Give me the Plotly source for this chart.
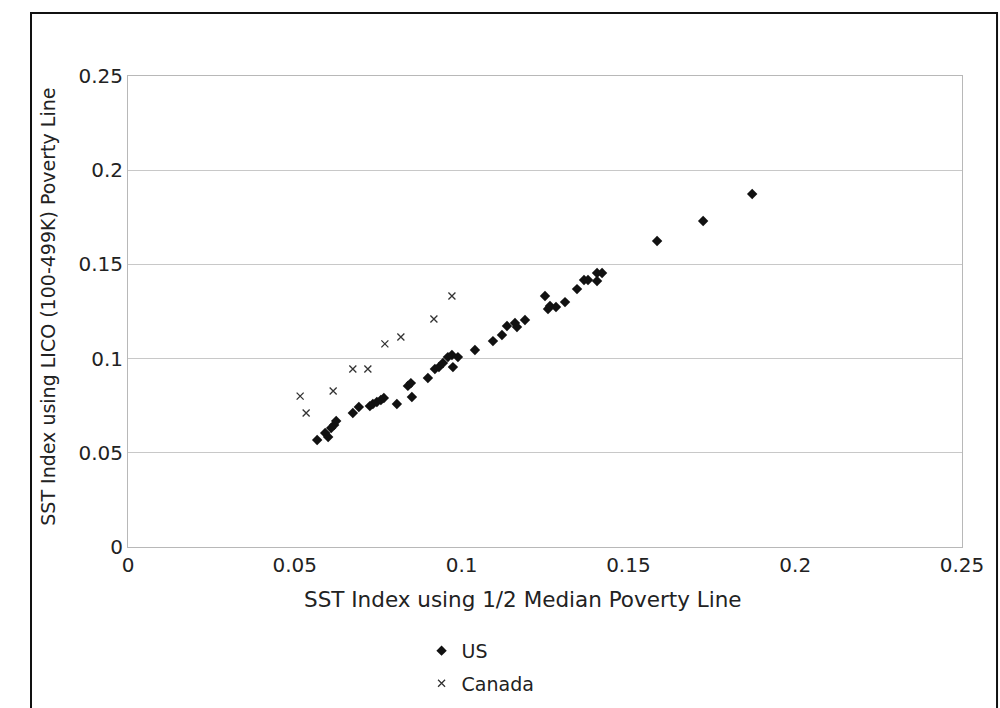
import plotly.graph_objects as go

# SST index values
us_half_median = [
    0.0567, 0.0591, 0.0600, 0.0609, 0.0618, 0.0624, 0.0674, 0.0692, 0.0725, 0.0734,
    0.0746, 0.0758, 0.0767, 0.0806, 0.0839, 0.0848, 0.0851, 0.0899, 0.0920, 0.0932,
    0.0944, 0.0959, 0.0971, 0.0974, 0.0989, 0.1040, 0.1094, 0.1121, 0.1136, 0.1160,
    0.1166, 0.1190, 0.1250, 0.1259, 0.1265, 0.1283, 0.1310, 0.1346, 0.1367, 0.1379,
    0.1406, 0.1406, 0.1421, 0.1586, 0.1724, 0.1871,
]
us_lico = [
    0.0568, 0.0605, 0.0584, 0.0632, 0.0648, 0.0669, 0.0711, 0.0743, 0.0748, 0.0759,
    0.0770, 0.0780, 0.0791, 0.0759, 0.0855, 0.0870, 0.0796, 0.0897, 0.0945, 0.0955,
    0.0977, 0.1008, 0.1019, 0.0955, 0.1008, 0.1046, 0.1093, 0.1125, 0.1173, 0.1189,
    0.1168, 0.1205, 0.1332, 0.1263, 0.1279, 0.1274, 0.1300, 0.1369, 0.1417, 0.1417,
    0.1412, 0.1454, 0.1454, 0.1624, 0.1730, 0.1874,
]
canada_half_median = [0.0516, 0.0534, 0.0615, 0.0674, 0.0719, 0.0770, 0.0818, 0.0917, 0.0971]
canada_lico = [0.0801, 0.0711, 0.0828, 0.0945, 0.0945, 0.1078, 0.1115, 0.1210, 0.1332]

tick_vals = [0, 0.05, 0.1, 0.15, 0.2, 0.25]
tick_text = ["0", "0.05", "0.1", "0.15", "0.2", "0.25"]

FONT = "DejaVu Sans, Verdana, sans-serif"

fig = go.Figure()
fig.add_trace(go.Scatter(
    x=us_half_median, y=us_lico, mode="markers", name="US", legendgroup="us",
    marker=dict(symbol="diamond", size=8, color="#111111"),
))
fig.add_trace(go.Scatter(
    x=canada_half_median, y=canada_lico, mode="markers", name="Canada",
    legendgroup="ca",
    marker=dict(symbol="x-thin", size=7, color="#333333",
                line=dict(width=1.3, color="#333333")),
))

# outer frame of the figure
fig.add_shape(type="rect", xref="paper", yref="paper",
              x0=-0.1163, x1=1.042, y0=-0.36, y1=1.1338,
              line=dict(color="#111111", width=2))

axis_common = dict(
    range=[0, 0.25], tickvals=tick_vals, ticktext=tick_text,
    showline=True, linecolor="#b8b8b8", linewidth=1, mirror=True,
    zeroline=False, tickfont=dict(size=20, color="#222222"),
)
fig.update_xaxes(**axis_common, showgrid=False)
fig.update_yaxes(**axis_common, showgrid=True, gridcolor="#c8c8c8", gridwidth=1)

# axis titles, placed where the original has them
fig.add_annotation(x=0.474, y=-0.112, xref="paper", yref="paper",
                   text="SST Index using 1/2 Median Poverty Line",
                   showarrow=False, font=dict(size=21.5, color="#222222"),
                   xanchor="center", yanchor="middle")
fig.add_annotation(x=-0.096, y=0.51, xref="paper", yref="paper",
                   text="SST Index using LICO (100-499K) Poverty Line",
                   showarrow=False, textangle=-90,
                   font=dict(size=19, color="#222222"),
                   xanchor="center", yanchor="middle")

fig.update_layout(
    width=1000, height=708,
    margin=dict(l=128, r=38, t=76, b=161, autoexpand=False),
    paper_bgcolor="white", plot_bgcolor="white",
    font=dict(family=FONT, color="#222222"),
    showlegend=True,
    legend=dict(x=0.352, y=-0.18, xanchor="left", yanchor="top",
                orientation="v", font=dict(size=19), itemwidth=30,
                tracegroupgap=5, bgcolor="rgba(0,0,0,0)"),
)

fig.write_html("out.html", config={"displayModeBar": False},
               post_script="document.body.style.margin='0';")
